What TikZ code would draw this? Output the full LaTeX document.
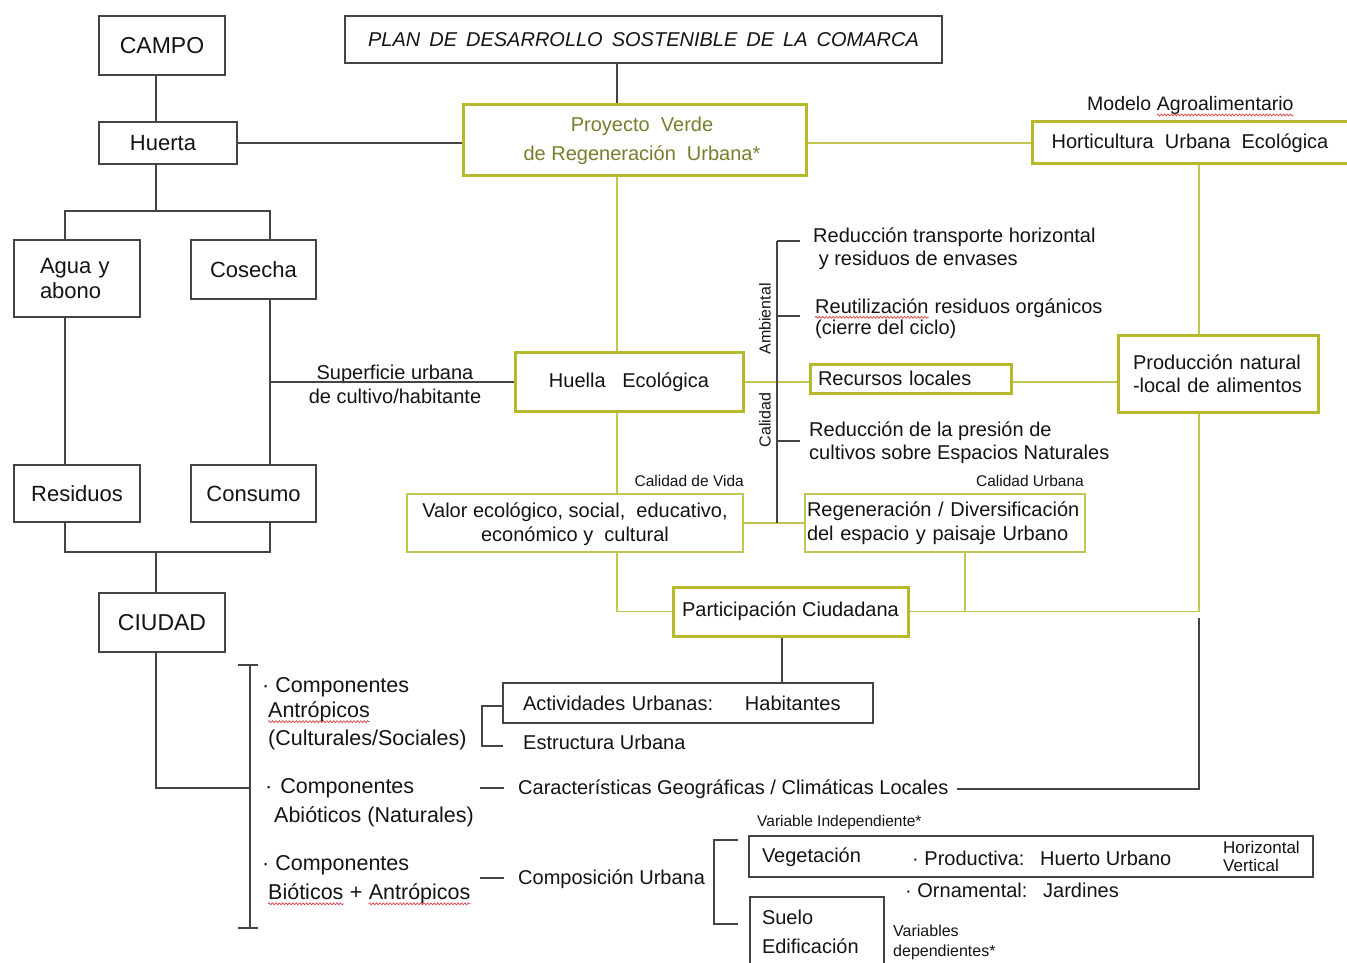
\documentclass[tikz,border=0pt]{standalone}
\usepackage{fontspec}
\setmainfont{Liberation Sans}
\usetikzlibrary{decorations.pathmorphing}
\definecolor{oliveB}{RGB}{182,185,44}
\definecolor{oliveL}{RGB}{194,197,84}
\definecolor{oliveT}{RGB}{122,124,46}
\definecolor{ink}{RGB}{20,20,20}
\definecolor{lineK}{RGB}{68,68,68}
\definecolor{waveR}{RGB}{215,70,70}
\newcommand{\myfs}[2]{\fontsize{#1}{#2}\selectfont}
\begin{document}
\begin{tikzpicture}[x=1pt, y={(0pt,-1pt)},
  bbox/.style={draw=lineK, line width=1.4pt, text=ink, inner sep=0pt, font=\myfs{22}{25}},
  gbox/.style={draw=oliveB, line width=3pt, text=ink, inner sep=0pt, font=\myfs{20}{23}},
  gthin/.style={draw=oliveL, line width=1.6pt, text=ink, inner sep=0pt, font=\myfs{20}{24}},
  txt/.style={inner sep=0pt, text=ink, font=\myfs{20}{23}},
  small/.style={inner sep=0pt, text=ink, font=\myfs{15.5}{18}},
  comp/.style={inner sep=0pt, text=ink, font=\myfs{21.5}{26}},
  blk/.style={draw=lineK, line width=1.4pt},
  gl/.style={draw=oliveL, line width=1.7pt},
  wave/.style={draw=waveR, line width=0.7pt, decorate, decoration={snake, amplitude=1pt, segment length=3.4pt}}
]
\fill[white] (0,0) rectangle (1347,963);
\useasboundingbox (0,0) rectangle (1347,963);

% ---------- black boxes ----------
\node[bbox, minimum width=126pt, minimum height=59pt, font=\myfs{23}{26}] (campo) at (162,45.5) {CAMPO};
\node[bbox, minimum width=597pt, minimum height=47pt, font=\myfs{20}{23}\itshape] (plan) at (643.5,39.5)
  {PLAN\hspace{0.45em}DE\hspace{0.45em}DESARROLLO\hspace{0.45em}SOSTENIBLE\hspace{0.45em}DE\hspace{0.45em}LA\hspace{0.45em}COMARCA};
\node[bbox, minimum width=138pt, minimum height=42pt, align=center] (huerta) at (168,143) {Huerta\hspace*{10pt}};
\node[bbox, minimum width=126pt, minimum height=77pt, text width=74pt, align=left, inner xsep=26pt] (agua) at (77,278.5) {Agua y\\abono};
\node[bbox, minimum width=125pt, minimum height=59pt] (cosecha) at (253.5,269.5) {Cosecha};
\node[bbox, minimum width=126pt, minimum height=57pt] (residuos) at (77,493.5) {Residuos};
\node[bbox, minimum width=125pt, minimum height=57pt] (consumo) at (253.5,493.5) {Consumo};
\node[bbox, minimum width=126pt, minimum height=59pt, font=\myfs{23}{26}] (ciudad) at (162,622.5) {CIUDAD};

% ---------- green boxes ----------
\node[gbox, minimum width=343pt, minimum height=71pt, text=oliveT, align=center, font=\myfs{20}{29}] (proy) at (634.5,140.5)
  {\hspace*{15pt}Proyecto\ \ Verde\\\hspace*{15pt}de Regeneración\ \ Urbana*};
\node[gbox, minimum width=316pt, minimum height=42pt] (hort) at (1190,143) {Horticultura\ \ Urbana\ \ Ecológica};
\node[gbox, minimum width=228pt, minimum height=59pt, text depth=2pt] (huella) at (629,381.5) {Huella\ \ \ Ecológica};
\node[gbox, minimum width=201pt, minimum height=29pt, text width=185pt, align=left, inner xsep=8pt] (recursos) at (910.5,378.5) {Recursos locales};
\node[gbox, minimum width=200pt, minimum height=77pt, text width=170pt, align=left, inner xsep=15pt] (prod) at (1218,373.5) {Producción natural\\-local de alimentos};
\node[gthin, minimum width=336pt, minimum height=58pt, align=center] (valor) at (575,523) {\rule{0pt}{17pt}Valor ecológico, social,\ \ educativo,\\económico y\ \ cultural};
\node[gthin, minimum width=280pt, minimum height=58pt, text width=276pt, align=left, inner xsep=2pt] (regen) at (945,523) {\rule{0pt}{16pt}Regeneración / Diversificación\\del espacio y paisaje Urbano};
\node[gbox, minimum width=235pt, minimum height=49pt] (part) at (790.5,611.5) {Participación Ciudadana};

% ---------- lower black boxes ----------
\node[bbox, font=\myfs{20}{23}, minimum width=370pt, minimum height=40pt, text width=330pt, align=left, inner xsep=20pt] (activ) at (688,703) {\makebox[222pt][l]{Actividades Urbanas:}Habitantes};
\node[bbox, font=\myfs{20}{23}, minimum width=564pt, minimum height=41pt, text width=538pt, align=left, inner xsep=13pt] (veg) at (1031,856.5) {\rule{0pt}{17pt}Vegetación};
\node[bbox, font=\myfs{20}{29}, minimum width=134pt, minimum height=70pt, text width=110pt, align=left, inner xsep=12pt] (suelo) at (817,932) {Suelo\\Edificación};

% ---------- free texts ----------
\node[txt, anchor=west, font=\myfs{19.5}{22}] (mod1) at (1087,104) {Modelo};
\node[txt, anchor=base west, font=\myfs{19.5}{22}] (mod2) at ([xshift=5.4pt]mod1.base east) {Agroalimentario};

\node[txt, anchor=west, align=left] (red1) at (813,248.5) {Reducción transporte horizontal\\\ y residuos de envases};
\node[txt, anchor=west] (reu1) at (815,306) {Reutilización};
\node[txt, anchor=base west] (reu2) at ([xshift=5.6pt]reu1.base east) {residuos orgánicos};
\node[txt, anchor=west] (reu3) at (815,329) {(cierre del ciclo)};
\node[txt, anchor=west, align=left] (pres) at (809,443) {Reducción de la presión de\\cultivos sobre Espacios Naturales};
\node[small, rotate=90, font=\myfs{16}{18}] (amb) at (765,319) {Ambiental};
\node[small, rotate=90, font=\myfs{16}{18}] (cal) at (765,420) {Calidad};

\node[txt, align=center, font=\myfs{20}{24}] (supt) at (395,384) {Superficie urbana\\de cultivo/habitante};
\node[small, anchor=east] (cvida) at (744,481) {Calidad de Vida};
\node[small, anchor=east] (curb) at (1084,481) {Calidad Urbana};

\node[comp, anchor=west] (c1) at (262,687) {·\ Componentes};
\node[comp, anchor=west] (c1b) at (268,712) {Antrópicos};
\node[comp, anchor=west] (c1c) at (268,740) {(Culturales/Sociales)};
\node[comp, anchor=west] (c2) at (265,788) {·\hspace{8pt}Componentes};
\node[comp, anchor=west] (c2b) at (274,817) {Abióticos (Naturales)};
\node[comp, anchor=west] (c3) at (262,865) {·\ Componentes};
\node[comp, anchor=west] (c3b) at (268,892) {Bióticos};
\node[comp, anchor=base west] (c3c) at ([xshift=6pt]c3b.base east) {+};
\node[comp, anchor=base west] (c3d) at ([xshift=6pt]c3c.base east) {Antrópicos};

\node[txt, anchor=west] (estr) at (523,742) {Estructura Urbana};
\node[txt, anchor=west] (geo) at (518,789) {Características Geográficas / Climáticas Locales};
\node[txt, anchor=west] (compu) at (518,879) {Composición Urbana};

\node[small, anchor=west] (varind) at (757,822) {Variable Independiente*};
\node[txt, anchor=west] (prodv) at (912,858) {· Productiva:};
\node[txt, anchor=west] (huertou) at (1040,858) {Huerto Urbano};
\node[txt, anchor=west, font=\myfs{17}{18}, align=left] (hv) at (1223,856) {Horizontal\\Vertical};
\node[txt, anchor=west] (orn) at (905,890) {· Ornamental:};
\node[txt, anchor=west] (jard) at (1043,890) {Jardines};
\node[small, anchor=west, font=\myfs{16}{20}, align=left] (vardep) at (893,942) {Variables\\dependientes*};

% ---------- red wavy underlines ----------
\foreach \w in {mod2, reu1, c1b, c3b, c3d}
  \draw[wave] ([yshift=-4pt]\w.base west) -- ([yshift=-4pt]\w.base east);

% ---------- green connectors ----------
\coordinate (px) at (617,0);
\coordinate (ry) at (0,382);
\coordinate (qx) at (1199,0);
\coordinate (gx) at (965,0);
\draw[gl] (hort.west -| proy.east) -- (hort.west);
\draw[gl] (proy.south -| px) -- (huella.north -| px);
\draw[gl] (huella.south -| px) -- (valor.north -| px);
\draw[gl] (valor.south -| px) -- (px |- part.west) -- (part.west);
\draw[gl] (huella.east |- ry) -- (recursos.west |- ry);
\draw[gl] (recursos.east |- ry) -- (prod.west |- ry);
\draw[gl] (hort.south -| qx) -- (prod.north -| qx);
\draw[gl] (prod.south -| qx) -- (qx |- part.east) -- (part.east);
\draw[gl] (regen.south -| gx) -- (gx |- part.east);
\draw[gl] (valor.east) -- (regen.west);

% ---------- black connectors ----------
\coordinate (mx) at (156,0);
\coordinate (hb) at (156,211);
\coordinate (hl) at (65,211);
\coordinate (hr) at (270,211);
\coordinate (rb) at (156,552);
\coordinate (cb) at (250,788);
\coordinate (bt) at (250,665);
\coordinate (bb) at (250,928);
\coordinate (sup) at (270,382);
\draw[blk] (campo.south -| mx) -- (huerta.north -| mx);
\draw[blk] (huerta.south -| mx) -- (hb);
\draw[blk] (agua.north -| hl) -- (hl) -- (hr) -- (cosecha.north -| hr);
\draw[blk] (agua.south -| hl) -- (residuos.north -| hl);
\draw[blk] (cosecha.south -| hr) -- (consumo.north -| hr);
\draw[blk] (residuos.south -| hl) -- (hl |- rb) -- (hr |- rb) -- (consumo.south -| hr);
\draw[blk] (rb) -- (ciudad.north -| rb);
\draw[blk] (ciudad.south -| mx) -- (mx |- cb) -- (cb);
\draw[blk] (bt) -- (bb);
\draw[blk, line width=1.8pt] ([xshift=-12pt]bt) -- ([xshift=8pt]bt);
\draw[blk, line width=1.8pt] ([xshift=-12pt]bb) -- ([xshift=8pt]bb);
\draw[blk] (sup) -- (sup -| huella.west);
\draw[blk] (huerta.east) -- (huerta.east -| proy.west);
\draw[blk] (plan.south -| px) -- (proy.north -| px);

% Ambiental / Calidad bracket
\coordinate (at) at (777,241);
\coordinate (a2) at (777,316);
\coordinate (a3) at (777,441);
\coordinate (ab) at (777,523);
\draw[blk] (at) -- (ab);
\draw[blk] (at) -- ([xshift=23pt]at);
\draw[blk] (a2) -- ([xshift=23pt]a2);
\draw[blk] (a3) -- ([xshift=23pt]a3);

% participation -> activities
\coordinate (ax) at (782,0);
\draw[blk] (part.south -| ax) -- (activ.north -| ax);

% small bracket
\coordinate (sb1) at (503,706);
\coordinate (sb2) at (482,706);
\coordinate (sb3) at (482,746);
\coordinate (sb4) at (503,746);
\draw[blk] (sb1) -- (sb2) -- (sb3) -- (sb4);

% dashes
\coordinate (d1a) at (480,788); \coordinate (d1b) at (504,788);
\coordinate (d2a) at (480,878); \coordinate (d2b) at (504,878);
\draw[blk] (d1a) -- (d1b);
\draw[blk] (d2a) -- (d2b);

% geo line
\coordinate (qtop) at (1199,618);
\draw[blk, shorten <=8pt] (geo.east) -- (qx |- geo.east) -- (qtop);

% composicion bracket
\coordinate (k1) at (738,840);
\coordinate (k2) at (714,840);
\coordinate (k3) at (714,924);
\coordinate (k4) at (738,924);
\draw[blk] (k1) -- (k2) -- (k3) -- (k4);
\end{tikzpicture}
\end{document}
